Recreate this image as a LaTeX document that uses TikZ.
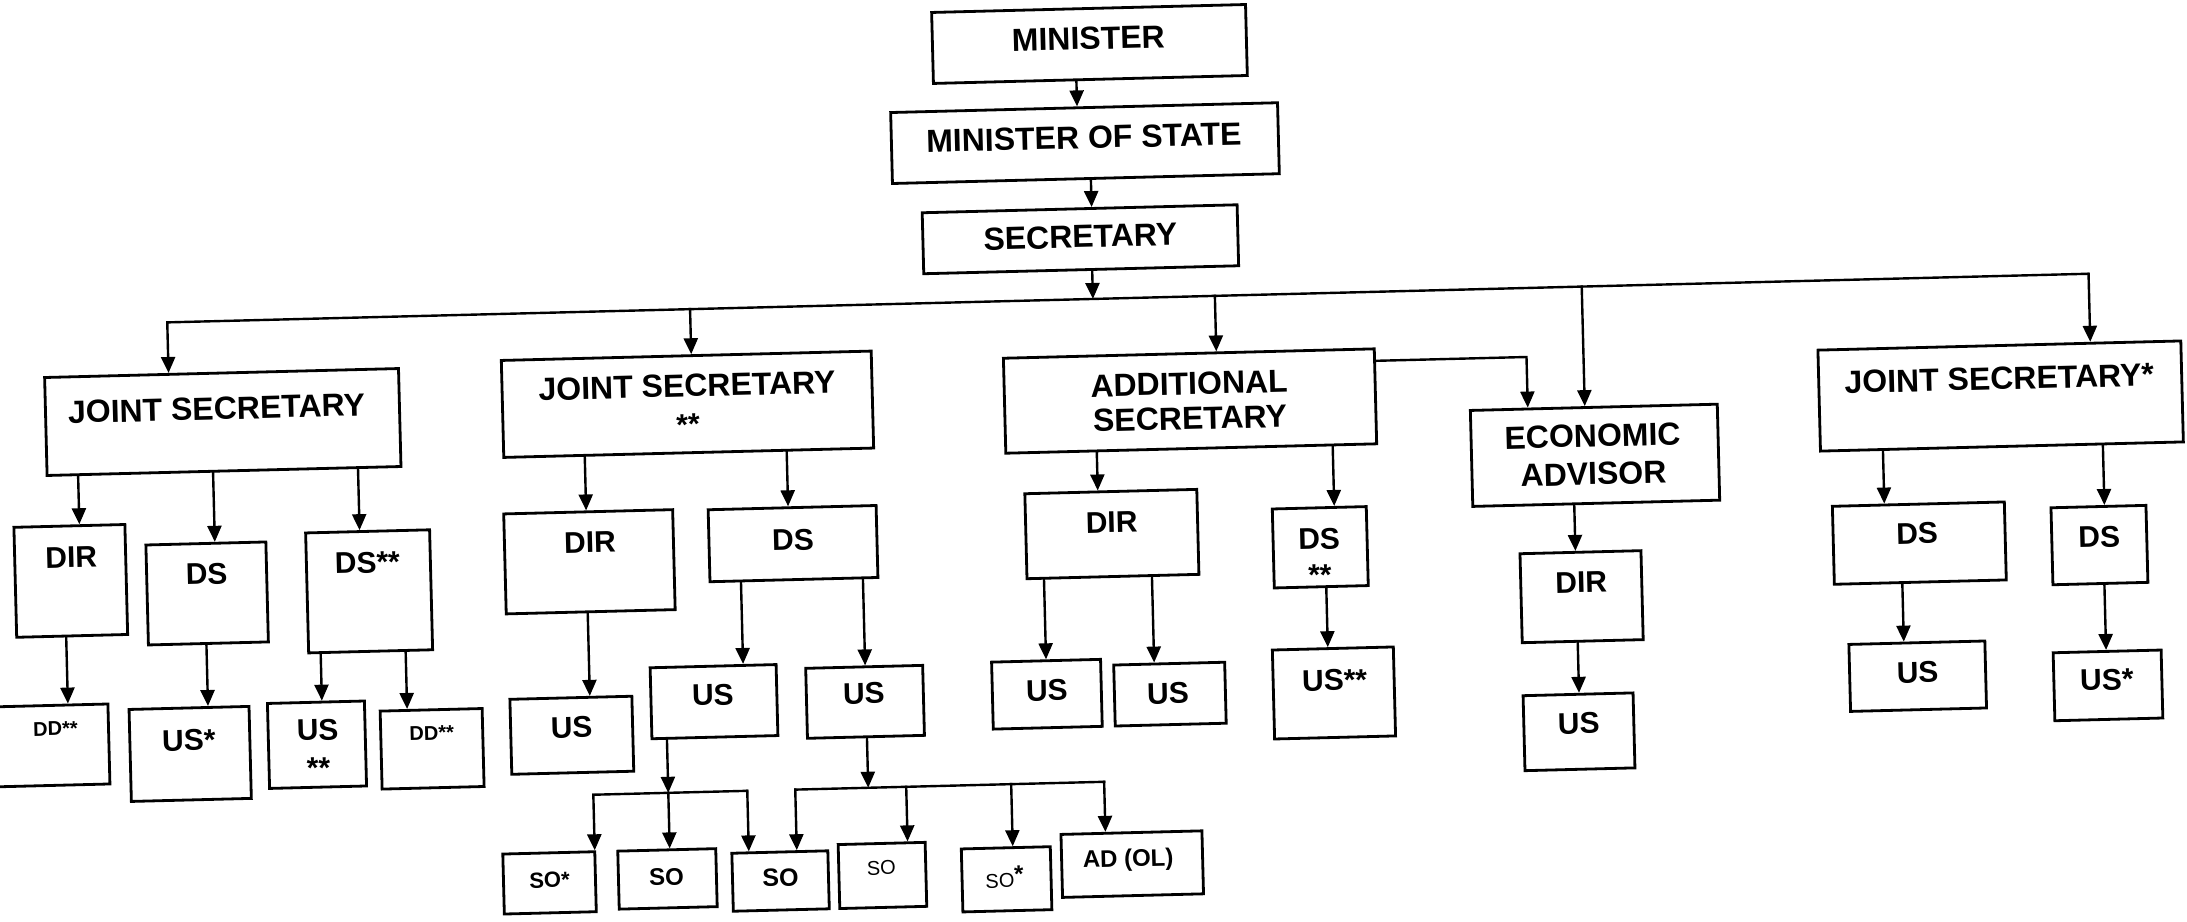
\documentclass[tikz,border=0pt]{standalone}
\usepackage{fontspec}
\setmainfont{Liberation Sans}
\usetikzlibrary{arrows.meta}
\newcommand\myarr[3]{\coordinate (tmp) at (#3,0); \draw[con] (#1.south -| tmp) -- (#2.north -| tmp);}
\tikzset{
  box/.style={draw, line width=2.8pt, inner sep=0pt},
  con/.style={line width=2.4pt, line cap=rect, -{Triangle[length=16pt,width=14pt]}},
  ln/.style={line width=2.4pt, line cap=rect},
  tA/.style={font=\fontsize{32}{32}\selectfont\bfseries, inner sep=0pt, anchor=base, yshift=-11.46pt},
  tB/.style={font=\fontsize{30}{30}\selectfont\bfseries, inner sep=0pt, anchor=base, yshift=-10.74pt},
  tDD/.style={font=\fontsize{20}{20}\selectfont\bfseries, inner sep=0pt, anchor=base, yshift=-7.16pt},
  tSa/.style={font=\fontsize{22}{22}\selectfont\bfseries, inner sep=0pt, anchor=base, yshift=-7.88pt},
  tSb/.style={font=\fontsize{24}{24}\selectfont\bfseries, inner sep=0pt, anchor=base, yshift=-8.59pt},
  tSc/.style={font=\fontsize{25}{25}\selectfont\bfseries, inner sep=0pt, anchor=base, yshift=-8.95pt},
  tR/.style={font=\fontsize{20}{20}\selectfont, inner sep=0pt, anchor=base, yshift=-7.16pt},
}
\begin{document}
\begin{tikzpicture}[x=1pt,y=-1pt]
\fill[white] (0,0) rectangle (2187,921);
\useasboundingbox (0,0) rectangle (2187,921);
\begin{scope}[rotate around={1.45:(1093,460)}, transform shape]
% top chain
\node[box, minimum width=314, minimum height=71] (MIN) at (1100,44) {};
\node[tA] (MINt) at (1099,38) {MINISTER};
\node[box, minimum width=387, minimum height=71] (MOS) at (1093,143) {};
\node[tA] (MOSt) at (1092,137) {MINISTER OF STATE};
\node[box, minimum width=315, minimum height=61] (SEC) at (1086,239) {};
\node[tA] (SECt) at (1086,236) {SECRETARY};
\myarr{MIN}{MOS}{1086}
\myarr{MOS}{SEC}{1098}
% level 1
\node[box, minimum width=354, minimum height=98] (JS1) at (224,400) {};
\node[tA] (JS1t) at (218,386) {JOINT SECRETARY};
\node[box, minimum width=370, minimum height=97] (JS2) at (689,394) {};
\node[tA] (JS2t) at (689,375) {JOINT SECRETARY};
\node[tB] (JS2s) at (689,414) {**};
\node[box, minimum width=371, minimum height=95] (AS) at (1191.5,403.5) {};
\node[tA] (ASa) at (1191,385.5) {ADDITIONAL};
\node[tA] (ASb) at (1191,420.5) {SECRETARY};
\node[box, minimum width=247, minimum height=96] (EA) at (1595,468) {};
\node[tA] (EAa) at (1593,448) {ECONOMIC};
\node[tA] (EAb) at (1593,486) {ADVISOR};
\node[box, minimum width=363, minimum height=101] (JSS) at (2002,419) {};
\node[tA] (JSSt) at (2001,401) {JOINT SECRETARY*};
% bus
\coordinate (busL) at (171,299);
\coordinate (busR) at (2093,299);
\coordinate (busS) at (1097,299);
\coordinate (bus2) at (694,299);
\coordinate (bus3) at (1219,299);
\coordinate (bus4) at (1586,299);
\draw[con] (SEC.south -| busS) -- (busS);
\draw[con] (busR) -- (busL) -- (JS1.north -| busL);
\draw[con] (busR) -- (JSS.north -| busR);
\draw[con] (bus2) -- (JS2.north -| bus2);
\draw[con] (bus3) -- (AS.north -| bus3);
\draw[con] (bus4) -- (EA.north -| bus4);
\coordinate (ae) at (1529,368);
\draw[con] (AS.east |- ae) -- (ae) -- (EA.north -| ae);
% JS1 subtree
\node[box, minimum width=111, minimum height=110] (DIR1) at (68,555) {};
\node[tB] (DIR1t) at (69,531) {DIR};
\node[box, minimum width=120, minimum height=100] (DS1) at (204,571) {};
\node[tB] (DS1t) at (204,551) {DS};
\node[box, minimum width=124, minimum height=120] (DSX1) at (366,573) {};
\node[tB] (DSX1t) at (365,544) {DS**};
\node[box, minimum width=122, minimum height=80] (DD1) at (41,719) {};
\node[tDD] (DD1t) at (49,702) {DD**};
\node[box, minimum width=120, minimum height=92] (USa1) at (183,731) {};
\node[tB] (USa1t) at (182,717) {US*};
\node[box, minimum width=97, minimum height=85] (USX1) at (310,725) {};
\node[tB] (USX1t) at (311,710) {US};
\node[tB] (USX1s) at (311,748) {**};
\node[box, minimum width=102, minimum height=78] (DD2) at (425,732) {};
\node[tDD] (DD2t) at (425,716) {DD**};
\myarr{JS1}{DIR1}{78}
\myarr{JS1}{DS1}{213}
\myarr{JS1}{DSX1}{358}
\myarr{DIR1}{DD1}{62}
\myarr{DS1}{USa1}{202}
\myarr{DSX1}{USX1}{316}
\myarr{DSX1}{DD2}{401}
% JS2 subtree
\node[box, minimum width=169, minimum height=100] (DIR2) at (587,549) {};
\node[tB] (DIR2t) at (588,529) {DIR};
\node[box, minimum width=168, minimum height=72] (DS2) at (791,536) {};
\node[tB] (DS2t) at (791,532) {DS};
\node[box, minimum width=122, minimum height=75] (US2) at (565,722) {};
\node[tB] (US2t) at (565,714) {US};
\node[box, minimum width=126, minimum height=71] (US3) at (708,692) {};
\node[tB] (US3t) at (707,685) {US};
\node[box, minimum width=117, minimum height=70] (US4) at (859,696) {};
\node[tB] (US4t) at (858,687) {US};
\myarr{JS2}{DIR2}{585}
\myarr{JS2}{DS2}{787}
\myarr{DIR2}{US2}{584}
\myarr{DS2}{US3}{738}
\myarr{DS2}{US4}{860}
\node[box, minimum width=92, minimum height=60] (SO1) at (539,869) {};
\node[tSa] (SO1t) at (539,866) {SO*};
\node[box, minimum width=98, minimum height=58] (SO2) at (657,868) {};
\node[tSb] (SO2t) at (656,866) {SO};
\node[box, minimum width=96, minimum height=58] (SO3) at (770,873) {};
\node[tSc] (SO3t) at (770,869) {SO};
\node[box, minimum width=87, minimum height=64] (SO4) at (872,870) {};
\node[tR] (SO4t) at (871,862) {SO};
\node[box, minimum width=89, minimum height=63] (SO5) at (996,877) {};
\node[tR] (SO5t) at (994,878) {SO\raisebox{5pt}{\fontsize{24}{24}\selectfont\bfseries *}};
\node[box, minimum width=141, minimum height=63] (AD) at (1122,865) {};
\node[tSb] (ADt) at (1118,859) {AD (OL)};
\coordinate (b1L) at (585,782);
\coordinate (b1M) at (660,782);
\coordinate (b1R) at (739,782);
\draw[ln] (b1L) -- (b1R);
\draw[con] (US3.south -| b1M) -- (b1M);
\draw[con] (b1L) -- (SO1.north -| b1L);
\draw[con] (b1M) -- (SO2.north -| b1M);
\draw[con] (b1R) -- (SO3.north -| b1R);
\coordinate (b2L) at (787,782);
\coordinate (b2M) at (860,782);
\coordinate (b2a) at (898,782);
\coordinate (b2b) at (1003,782);
\coordinate (b2R) at (1096,782);
\draw[ln] (b2L) -- (b2R);
\draw[con] (US4.south -| b2M) -- (b2M);
\draw[con] (b2L) -- (SO3.north -| b2L);
\draw[con] (b2a) -- (SO4.north -| b2a);
\draw[con] (b2b) -- (SO5.north -| b2b);
\draw[con] (b2R) -- (AD.north -| b2R);
% AS subtree
\node[box, minimum width=172, minimum height=85] (DIR3) at (1110,534.5) {};
\node[tB] (DIR3t) at (1110,522.5) {DIR};
\node[box, minimum width=94, minimum height=79] (DS3) at (1318,553) {};
\node[tB] (DS3t) at (1317,544) {DS};
\node[tB] (DS3s) at (1317,580) {**};
\node[box, minimum width=109, minimum height=67] (US5) at (1041,693) {};
\node[tB] (US5t) at (1041,689) {US};
\node[box, minimum width=111, minimum height=61] (US6) at (1164,696) {};
\node[tB] (US6t) at (1162,695) {US};
\node[box, minimum width=121, minimum height=89] (USX2) at (1328,699) {};
\node[tB] (USX2t) at (1329,686) {US**};
\myarr{AS}{DIR3}{1097}
\myarr{AS}{DS3}{1333}
\myarr{DIR3}{US5}{1041}
\myarr{DIR3}{US6}{1149}
\myarr{DS3}{USX2}{1323}
% EA subtree
\node[box, minimum width=121, minimum height=89] (DIR4) at (1578,609) {};
\node[tB] (DIR4t) at (1578,594) {DIR};
\node[box, minimum width=110, minimum height=75] (US7) at (1572,744) {};
\node[tB] (US7t) at (1572,735) {US};
\myarr{EA}{DIR4}{1573}
\myarr{DIR4}{US7}{1573}
% JS* subtree
\node[box, minimum width=172, minimum height=78] (DS5) at (1917,564) {};
\node[tB] (DS5t) at (1915,554) {DS};
\node[box, minimum width=95, minimum height=77] (DS6) at (2097,570.5) {};
\node[tB] (DS6t) at (2097,562) {DS};
\node[box, minimum width=136, minimum height=67] (US8) at (1912,697) {};
\node[tB] (US8t) at (1912,693) {US};
\node[box, minimum width=108, minimum height=68] (USa2) at (2102,711) {};
\node[tB] (USa2t) at (2101,705) {US*};
\myarr{JSS}{DS5}{1883}
\myarr{JSS}{DS6}{2103}
\myarr{DS5}{US8}{1899}
\myarr{DS6}{USa2}{2101}
\end{scope}
\end{tikzpicture}
\end{document}
